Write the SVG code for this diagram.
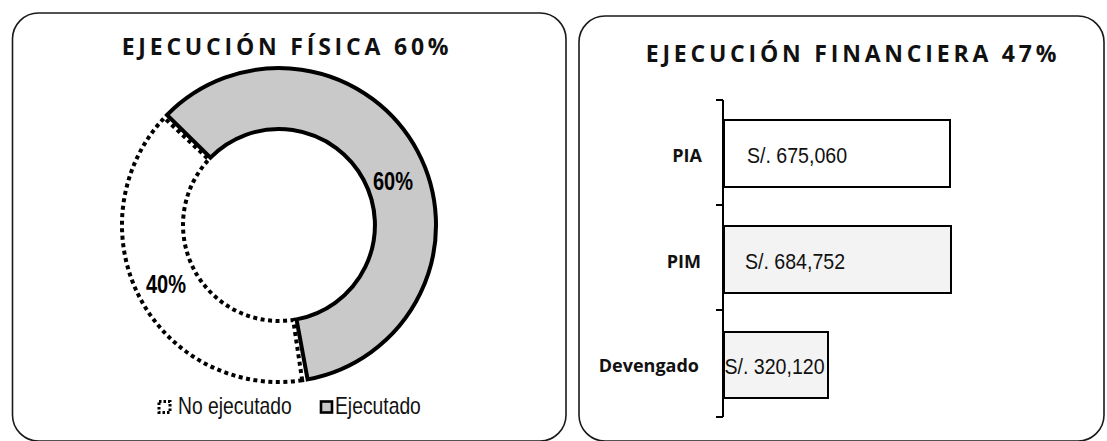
<svg xmlns="http://www.w3.org/2000/svg" width="1107" height="441" viewBox="0 0 1107 441">
  <defs>
    <style>
      .panel { fill: #ffffff; stroke: #1a1a1a; stroke-width: 1.6; }
      .title { font-family: "Open Sans", "Liberation Sans", sans-serif; font-weight: bold; font-size: 23px; letter-spacing: 3.8px; fill: #111; text-anchor: middle; }
      .solid { fill: #c9c9c9; stroke: #000; stroke-width: 4; stroke-linejoin: miter; }
      .dotted { fill: #ffffff; stroke: #000; stroke-width: 4; stroke-dasharray: 4 3.5; }
      .pct { font-family: "Liberation Sans", Arial, sans-serif; font-weight: bold; font-size: 25px; fill: #000; text-anchor: middle; }
      .leg { font-family: "Liberation Sans", Arial, sans-serif; font-size: 23px; fill: #111; }
      .cat { font-family: "Open Sans", "Liberation Sans", sans-serif; font-weight: bold; font-size: 18px; fill: #111; text-anchor: end; }
      .val { font-family: "Liberation Sans", Arial, sans-serif; font-size: 22.5px; fill: #111; }
      .bar { stroke: #000; stroke-width: 2; }
      .axis { stroke: #000; stroke-width: 2; fill: none; }
    </style>
  </defs>

  <g id="panel-fisica">
    <rect class="panel" x="12.5" y="13" width="553.5" height="428" rx="26" ry="26"/>
    <text class="title" x="287" y="55">EJECUCIÓN FÍSICA 60%</text>
  </g>

  <g id="slice-no-ejecutado">
    <path class="dotted" d="M302.2,380.3 A157,157 0 0 1 164.2,117.9 L208.8,159.5 A96,96 0 0 0 293.2,319.9 Z"/>
    <text class="pct" transform="translate(166,293) scale(0.8,1)">40%</text>
  </g>

  <g id="slice-ejecutado">
    <path class="solid" d="M167,115 A157,157 0 1 1 307.6,379.4 L296.5,319.4 A96,96 0 1 0 210.5,157.7 Z"/>
    <text class="pct" transform="translate(393,190) scale(0.8,1)">60%</text>
  </g>

  <g id="legend">
    <rect x="159" y="401.5" width="11" height="11" fill="#fff" stroke="#000" stroke-width="3" stroke-dasharray="2.5 2"/>
    <text class="leg" transform="translate(178,414) scale(0.84,1)">No ejecutado</text>
    <rect x="321" y="401.5" width="11" height="11" fill="#c9c9c9" stroke="#000" stroke-width="2.6"/>
    <text class="leg" transform="translate(335,414) scale(0.84,1)">Ejecutado</text>
  </g>

  <g id="panel-financiera">
    <rect class="panel" x="579" y="16" width="525" height="425" rx="26" ry="26"/>
    <text class="title" x="853" y="62">EJECUCIÓN FINANCIERA 47%</text>
  </g>

  <g id="bar-pia">
    <rect class="bar" x="724" y="120" width="226" height="67" fill="#ffffff"/>
    <text class="cat" x="702" y="162">PIA</text>
    <text class="val" transform="translate(747,163) scale(0.87,1)">S/. 675,060</text>
  </g>

  <g id="bar-pim">
    <rect class="bar" x="724" y="226" width="227" height="67" fill="#f3f3f3"/>
    <text class="cat" x="701" y="267.5">PIM</text>
    <text class="val" transform="translate(745,268.5) scale(0.87,1)">S/. 684,752</text>
  </g>

  <g id="bar-devengado">
    <rect class="bar" x="724" y="332" width="104" height="66" fill="#f3f3f3"/>
    <text class="cat" x="699" y="372">Devengado</text>
    <text class="val" transform="translate(724.5,374) scale(0.87,1)">S/. 320,120</text>
  </g>

  <g id="axis">
    <path class="axis" d="M723,100 V417 M716,100 H723 M716,205 H723 M716,310 H723 M716,417 H723"/>
  </g>
</svg>
